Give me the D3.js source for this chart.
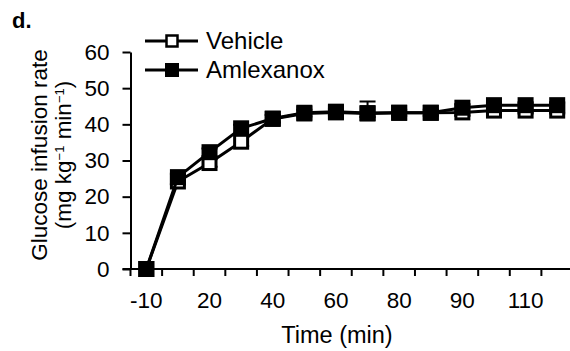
<!DOCTYPE html>
<html>
<head>
<meta charset="utf-8">
<script src="https://cdn.jsdelivr.net/npm/d3@7"></script>
<style>
  body { margin: 0; background: #fff; }
  text { font-family: "Liberation Sans", Arial, sans-serif; fill: #000; }
</style>
</head>
<body>
<div id="chart"></div>
<script>
// categories on the x axis (evenly spaced), only some carry a label
const times = ['-10', '10', '20', '30', '40', '50', '60', '70', '80', '85', '90', '100', '110', '120'];
const timeLabels = ['-10', '20', '40', '60', '80', '90', '110'];
const yTicks = [0, 10, 20, 30, 40, 50, 60];

const vehicle = [0, 24.2, 29.3, 35.2, 41.5, 43.0, 43.3, 43.0, 43.2, 43.2, 43.3, 43.8, 43.8, 43.8];
const vehicleErr = [0, 0.8, 1.0, 1.2, 1.0, 0.8, 0.8, 1.0, 0.8, 0.8, 1.0, 0.8, 0.8, 0.8];
const amlexanox = [0, 25.4, 32.3, 38.9, 41.6, 43.2, 43.5, 43.1, 43.2, 43.2, 44.6, 45.3, 45.3, 45.3];
const amlexanoxErr = [0, 1.0, 1.0, 1.0, 1.0, 0.8, 0.8, 3.2, 0.8, 0.8, 1.0, 0.8, 0.8, 0.8];

const width = 570, height = 351;
const svg = d3.select('#chart')
    .append('svg')
    .attr('width', width)
    .attr('height', height);

const x = d3.scaleBand()
    .domain(times)
    .range([130.5, 573])
    .padding(0);

const y = d3.scaleLinear()
    .domain([0, 60])
    .range([269, 52]);

const cx = d => x(d) + x.bandwidth() / 2;

/* y axis */
const yAxis = svg.append('g')
    .attr('transform', `translate(${x.range()[0]},0)`)
    .call(d3.axisLeft(y).tickValues(yTicks).tickSize(8).tickPadding(13).tickSizeOuter(0));
yAxis.select('.domain').attr('stroke-width', 2);
yAxis.selectAll('.tick line').attr('stroke-width', 2);
yAxis.selectAll('text').style('font-size', '22.5px').attr('fill', '#000');

/* x axis: ticks at the category boundaries, labels centred */
const xg = svg.append('g').attr('transform', `translate(0,${y(0)})`);
xg.append('line')
    .attr('x1', x.range()[0] - 8).attr('x2', width)
    .attr('stroke', '#000').attr('stroke-width', 2);
xg.selectAll('.xt')
    .data(times)
    .join('line')
    .attr('x1', d => x(d)).attr('x2', d => x(d))
    .attr('y1', 0).attr('y2', 7)
    .attr('stroke', '#000').attr('stroke-width', 2);
xg.selectAll('.xl')
    .data(timeLabels)
    .join('text')
    .attr('x', d => cx(d))
    .attr('y', 39)
    .attr('text-anchor', 'middle')
    .style('font-size', '22.5px')
    .text(d => d);

/* axis titles */
svg.append('text')
    .attr('x', 337).attr('y', 343)
    .attr('text-anchor', 'middle')
    .style('font-size', '23.5px')
    .text('Time (min)');

const yTitle = svg.append('text')
    .attr('transform', 'translate(47,155) rotate(-90)')
    .attr('text-anchor', 'middle')
    .style('font-size', '22.5px');
yTitle.append('tspan').attr('x', 0).attr('dy', 0).text('Glucose infusion rate');
const l2 = yTitle.append('tspan').attr('x', 0).attr('dy', 24);
l2.append('tspan').text('(mg kg');
l2.append('tspan').attr('baseline-shift', 'super').style('font-size', '13px').text('\u22121');
l2.append('tspan').text(' min');
l2.append('tspan').attr('baseline-shift', 'super').style('font-size', '13px').text('\u22121');
l2.append('tspan').text(')');

svg.append('text')
    .attr('x', 12).attr('y', 28)
    .style('font-size', '22px')
    .style('font-weight', 'bold')
    .text('d.');

/* series */
const line = d3.line()
    .x((d, i) => cx(times[i]))
    .y(d => y(d));

// error bars: upward for the filled series, downward for the open one
function drawSeries(values, errs, filled) {
    const g = svg.append('g');
    g.append('path')
        .datum(values)
        .attr('fill', 'none')
        .attr('stroke', '#000')
        .attr('stroke-width', 3)
        .attr('d', line);

    g.selectAll('.err')
        .data(values)
        .join('path')
        .attr('d', (d, i) => {
            const xc = cx(times[i]);
            const end = filled ? y(d + errs[i]) : y(d - errs[i]);
            return `M${xc},${y(d)}V${end}M${xc - 8},${end}H${xc + 8}`;
        })
        .attr('stroke', '#000')
        .attr('stroke-width', 2)
        .attr('fill', 'none');

    const s = 16;
    g.selectAll('.mk')
        .data(values)
        .join('rect')
        .attr('x', (d, i) => cx(times[i]) - s / 2 + (filled ? 0 : 1.5))
        .attr('y', d => y(d) - s / 2 + (filled ? 0 : 1.5))
        .attr('width', filled ? s : s - 3)
        .attr('height', filled ? s : s - 3)
        .attr('fill', filled ? '#000' : '#fff')
        .attr('stroke', '#000')
        .attr('stroke-width', filled ? 0 : 3);
}

drawSeries(vehicle, vehicleErr, false);
drawSeries(amlexanox, amlexanoxErr, true);

/* legend */
const legend = [
    { name: 'Vehicle', filled: false, y: 41 },
    { name: 'Amlexanox', filled: true, y: 70 }
];
const lg = svg.append('g');
legend.forEach(d => {
    lg.append('line')
        .attr('x1', 145).attr('x2', 198)
        .attr('y1', d.y).attr('y2', d.y)
        .attr('stroke', '#000').attr('stroke-width', 3);
    lg.append('rect')
        .attr('x', d.filled ? 165 : 166.5)
        .attr('y', d.y - (d.filled ? 7 : 5.5))
        .attr('width', d.filled ? 14 : 11)
        .attr('height', d.filled ? 14 : 11)
        .attr('fill', d.filled ? '#000' : '#fff')
        .attr('stroke', '#000')
        .attr('stroke-width', d.filled ? 0 : 2.5);
    lg.append('text')
        .attr('x', 206).attr('y', d.y + 8)
        .style('font-size', '24px')
        .text(d.name);
});
</script>
</body>
</html>
